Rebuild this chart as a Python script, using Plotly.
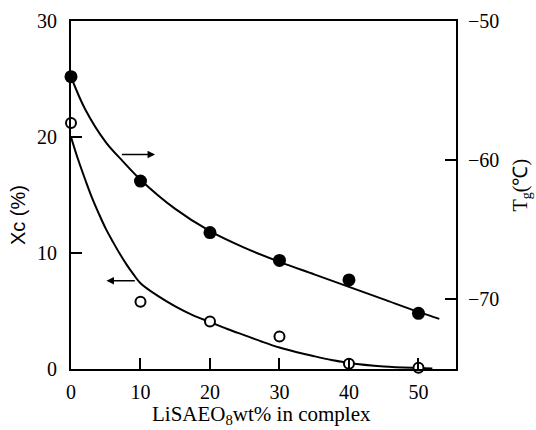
import plotly.graph_objects as go

# measured points
x_pts = [0, 10, 20, 30, 40, 50]
xc_pts = [21.2, 5.8, 4.1, 2.8, 0.46, 0.1]
tg_pts = [-54.0, -61.5, -65.2, -67.2, -68.6, -71.0]

# fitted curves
xc_curve_x = [0, 1, 2, 3, 4, 5, 6, 7, 8, 9, 10, 12.5, 15, 17.5, 20, 22.5, 25, 27.5, 30, 32.5, 35, 37.5, 40, 45, 50, 52]
xc_curve_y = [20.0, 18.1, 16.4, 14.8, 13.4, 12.1, 11.0, 9.95, 9.0, 8.15, 7.4, 6.3, 5.4, 4.65, 4.05, 3.45, 2.9, 2.35, 1.85, 1.45, 1.1, 0.78, 0.52, 0.22, 0.08, 0.04]
tg_curve_x = [0, 2, 5, 7.5, 10, 15, 20, 25, 30, 35, 40, 45, 50, 53]
tg_curve_y = [-54.0, -56.3, -58.7, -60.1, -61.4, -63.5, -65.1, -66.3, -67.3, -68.2, -69.1, -70.0, -70.9, -71.4]

x_ticks = [0, 10, 20, 30, 40, 50]
y_ticks = [0, 10, 20, 30]
y2_ticks = [-50, -60, -70]
y2_text = ["\u221250", "\u221260", "\u221270"]

X_RANGE = [0, 55.4]
Y_RANGE = [0, 30]
Y2_RANGE = [-75, -50]

serif = "Liberation Serif"
fig = go.Figure()
fig.add_trace(go.Scatter(x=xc_curve_x, y=xc_curve_y, mode="lines", line=dict(color="black", width=2, shape="spline"), showlegend=False))
fig.add_trace(go.Scatter(x=tg_curve_x, y=tg_curve_y, mode="lines", yaxis="y2", line=dict(color="black", width=2, shape="spline"), showlegend=False))
fig.add_trace(go.Scatter(x=x_pts, y=xc_pts, mode="markers", cliponaxis=False, marker=dict(symbol="circle", size=10, color="white", line=dict(color="black", width=2)), showlegend=False))
fig.add_trace(go.Scatter(x=x_pts, y=tg_pts, mode="markers", yaxis="y2", cliponaxis=False, marker=dict(symbol="circle", size=13, color="black"), showlegend=False))

fig.add_annotation(x=12.1, y=18.5, ax=7.1, ay=18.5, xref="x", yref="y", axref="x", ayref="y", showarrow=True, arrowhead=2, arrowsize=1, arrowwidth=1.5, arrowcolor="black", text="")
fig.add_annotation(x=5.1, y=7.6, ax=9.4, ay=7.6, xref="x", yref="y", axref="x", ayref="y", showarrow=True, arrowhead=2, arrowsize=1, arrowwidth=1.5, arrowcolor="black", text="")

# axis titles placed as annotations
fig.add_annotation(text="Xc (%)", xref="paper", yref="paper", x=-0.137, y=0.443, xanchor="center", yanchor="middle",
                   showarrow=False, textangle=-90, font=dict(family="Liberation Sans", size=20, color="black"))
fig.add_annotation(text="T<sub>g</sub>(\u2103)", xref="paper", yref="paper", x=1.171, y=0.53, xanchor="center", yanchor="middle",
                   showarrow=False, textangle=-90, font=dict(family=serif, size=20, color="black"))
fig.add_annotation(text="LiSAEO<sub>8</sub>wt% in complex", xref="paper", yref="paper", x=0.496, y=-0.132,
                   xanchor="center", yanchor="middle", showarrow=False, font=dict(family=serif, size=21, color="black"))

axis_common = dict(ticks="inside", ticklen=11, tickwidth=2, tickcolor="black", showline=True, layer="above traces",
                   linecolor="black", linewidth=2, showgrid=False, zeroline=False)
fig.update_layout(
    template="none",
    width=536, height=430,
    margin=dict(l=71, r=80, t=21, b=61),
    paper_bgcolor="white", plot_bgcolor="white",
    font=dict(family=serif, color="black", size=20),
    xaxis=dict(range=X_RANGE, tickvals=x_ticks, ticklabelstandoff=4, **axis_common),
    xaxis2=dict(range=X_RANGE, overlaying="x", side="top", showline=True, linecolor="black", linewidth=2,
                showticklabels=False, ticks="", showgrid=False, zeroline=False),
    yaxis=dict(range=Y_RANGE, tickvals=y_ticks, ticklabelstandoff=8, **axis_common),
    yaxis2=dict(range=Y2_RANGE, overlaying="y", side="right", tickvals=y2_ticks, ticktext=y2_text,
                ticklabelstandoff=6, **axis_common),
)
fig.add_trace(go.Scatter(x=[0], y=[0], xaxis="x2", mode="markers", marker=dict(opacity=0), showlegend=False, hoverinfo="skip"))
fig.write_html("out.html")
